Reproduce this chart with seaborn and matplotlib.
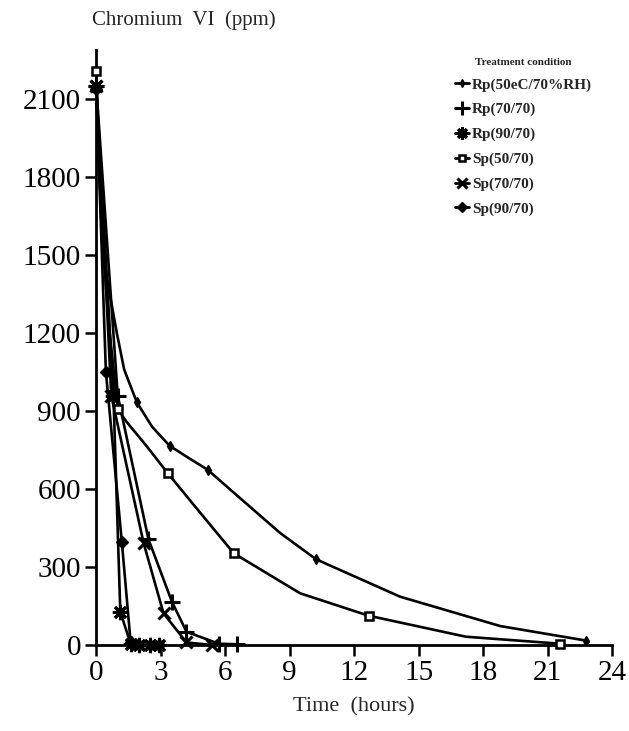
import matplotlib

matplotlib.use("Agg")
import matplotlib.pyplot as plt
import seaborn as sns
from matplotlib.lines import Line2D

# Time (hours) and chromium VI (ppm)
rp50_t = [0, 1.89, 3.41, 5.19, 10.23, 22.8]
rp50_c = [2150, 934, 767, 674, 330, 17]
rp50_line_t = [0, 0.3, 0.96, 1.3, 1.89, 2.6, 3.41, 4.3, 5.19, 6.78, 8.56, 10.23, 14.14, 18.8, 22.8]
rp50_line_c = [2150, 1500, 1200, 1060, 934, 840, 767, 720, 674, 559, 431, 330, 186, 73, 17]

sp50_t = [0, 1.0, 3.33, 6.4, 12.67, 21.6]
sp50_c = [2210, 910, 661, 353, 113, 5]
sp50_line_t = [0, 0.25, 0.6, 1.0, 1.4, 2.3, 3.33, 4.84, 6.4, 9.49, 12.67, 17.2, 21.6]
sp50_line_c = [2210, 1600, 1220, 910, 860, 770, 661, 509, 353, 199, 113, 32, 5]

rp70_t = [0, 1.0, 2.43, 3.52, 4.2, 5.7, 6.55]
rp70_c = [2150, 960, 407, 167, 51, 5, 3]

sp70_t = [0, 0.7, 2.2, 3.13, 4.2, 5.4]
sp70_c = [2150, 960, 394, 122, 10, 0]

rp90_t = [0, 0.8, 1.12, 1.6, 2.0, 2.5, 2.9]
rp90_c = [2150, 960, 128, 5, 0, 0, 0]

sp90_t = [0, 0.45, 1.19, 1.6, 2.0, 2.5, 2.9]
sp90_c = [2140, 1050, 398, 10, 2, 0, 0]

labels = ["Rp(50eC/70%RH)", "Rp(70/70)", "Rp(90/70)", "Sp(50/70)", "Sp(70/70)", "Sp(90/70)"]
x_ticks = [0, 3, 6, 9, 12, 15, 18, 21, 24]
y_ticks = [0, 300, 600, 900, 1200, 1500, 1800, 2100]

sns.set_style("ticks")
plt.rcParams["font.family"] = ["Liberation Serif", "DejaVu Serif"]

fig = plt.figure(figsize=(6.29, 7.31), dpi=100)
ax = fig.add_axes([0.153, 0.1176, 0.820, 0.814])

series = [
    (rp50_line_t, rp50_line_c, rp50_t, rp50_c, dict(marker="d", ms=5, mfc="black")),
    (rp70_t, rp70_c, rp70_t, rp70_c, dict(marker="+", ms=12, mew=2.2)),
    (rp90_t, rp90_c, rp90_t, rp90_c, dict(marker=(8, 2, 0), ms=11, mew=2.2)),
    (sp50_line_t, sp50_line_c, sp50_t, sp50_c, dict(marker="s", ms=6, mfc="white", mew=1.8)),
    (sp70_t, sp70_c, sp70_t, sp70_c, dict(marker="x", ms=9, mew=2.2)),
    (sp90_t, sp90_c, sp90_t, sp90_c, dict(marker="D", ms=6, mfc="black")),
]

for lt, lc, mt, mc, mk in series:
    sns.lineplot(x=lt, y=lc, ax=ax, color="black", linewidth=1.9, sort=False,
                 estimator=None, clip_on=False)
    ax.plot(mt, mc, linestyle="none", color="black", mec="black", clip_on=False,
            zorder=4, **mk)

ax.set_xlim(0, 24)
ax.set_ylim(0, 2290)
ax.set_xticks(x_ticks)
ax.set_yticks(y_ticks)
ax.tick_params(axis="both", direction="out", length=8, width=1.8, labelsize=21,
               color="black", labelcolor="black", pad=3)
for side in ["left", "bottom"]:
    ax.spines[side].set_linewidth(2.0)
    ax.spines[side].set_color("black")
sns.despine(ax=ax)

ax.set_xlabel("Time  (hours)", fontsize=16, labelpad=8)
ax.set_ylabel("")
fig.text(0.146, 0.972, "Chromium  VI  (ppm)", fontsize=15, ha="left", va="center")

handles = []
for (_, _, _, _, mk), lab in zip(series, labels):
    handles.append(Line2D([0], [0], color="black", linewidth=2, mec="black", **mk))
leg = ax.legend(handles, labels, title="Treatment condition", loc="upper left",
                bbox_to_anchor=(0.675, 1.005), frameon=False, handlelength=0.9,
                handletextpad=0.2, labelspacing=0.72, borderpad=0.2,
                prop={"size": 11, "weight": "bold"}, markerscale=0.8)
leg.get_title().set_fontsize(8)
leg.get_title().set_fontweight("bold")

fig.savefig("out.png", dpi=100)
